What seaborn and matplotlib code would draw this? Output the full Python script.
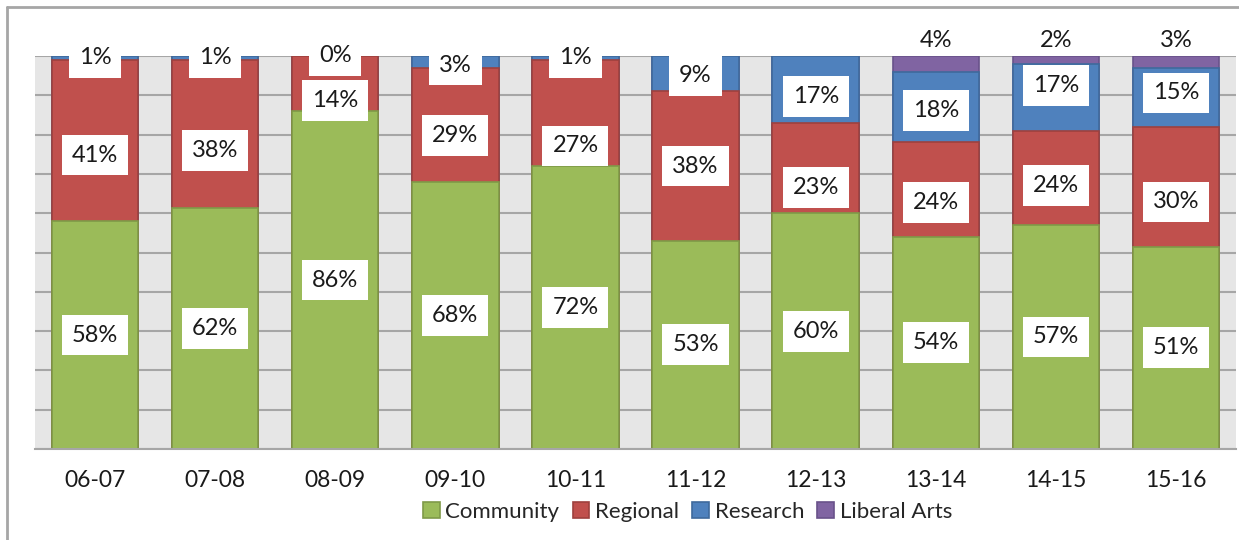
import numpy as np
import pandas as pd
import matplotlib
matplotlib.use("Agg")
import matplotlib.pyplot as plt
from matplotlib.lines import Line2D
from matplotlib.patches import Patch
import seaborn as sns

years = ["06-07", "07-08", "08-09", "09-10", "10-11", "11-12", "12-13", "13-14", "14-15", "15-16"]
community = [58, 62, 86, 68, 72, 53, 60, 54, 57, 51]
regional = [41, 38, 14, 29, 27, 38, 23, 24, 24, 30]
research = [1, 1, 0, 3, 1, 9, 17, 18, 17, 15]
liberal_arts = [0, 0, 0, 0, 0, 0, 0, 4, 2, 3]

series_names = ["Community", "Regional", "Research", "Liberal Arts"]
colors = ["#9BBB59", "#C0504D", "#4F81BD", "#8064A2"]
edges = ["#7F9A48", "#9E413E", "#3F6A9C", "#69528A"]

# label placement nudges (in % units), mimicking manually dragged labels
nudge_regional = [-3.7, -4.3, -4.4, -2.8, -8.4, 0.0, -5.0, -3.3, -2.0, -3.8]
nudge_research = [0.0, 0.0, 0.0, -0.8, 0.0, -0.5, -1.7, -0.8, 2.9, 1.2]

sns.set_theme(style="white")
plt.rcParams["font.family"] = ["Lato", "DejaVu Sans"]

df = pd.DataFrame({"year": years, "Community": community, "Regional": regional,
                   "Research": research, "Liberal Arts": liberal_arts})
tot = df[series_names].sum(axis=1)
share = df[series_names].div(tot, axis=0) * 100
cum = share.cumsum(axis=1)

fig = plt.figure(figsize=(12.39, 5.40), dpi=100)
ax = fig.add_axes([35 / 1239, 1 - 449 / 540, (1236 - 35) / 1239, (449 - 56) / 540])
ax.set_facecolor("#E6E6E6")

# draw stacked bars top-down with cumulative heights
for i in range(3, -1, -1):
    name = series_names[i]
    d = pd.DataFrame({"year": years, "val": cum[name].values})
    sns.barplot(data=d, x="year", y="val", color=colors[i], edgecolor=edges[i],
                linewidth=1.2, width=0.72, saturation=1, ax=ax, zorder=2)

ax.set_xlim(-0.5, 9.5)
ax.set_ylim(0, 100)
ax.set_yticks(np.arange(0, 101, 10))
ax.set_yticklabels([])
ax.tick_params(axis="y", length=0)
ax.yaxis.grid(True, color="#A6A6A6", linewidth=1.5, zorder=0)
ax.set_axisbelow(True)
ax.set_xlabel("")
ax.set_ylabel("")
for s in ["top", "right", "left"]:
    ax.spines[s].set_visible(False)
ax.spines["bottom"].set_color("#A6A6A6")
ax.spines["bottom"].set_linewidth(1.5)
ax.set_xticks(range(len(years)))
ax.set_xticklabels(years, fontsize=16.5, color="#1a1a1a")
ax.set_xticks(np.arange(-0.5, 10, 1), minor=True)
ax.tick_params(axis="x", which="major", length=0, pad=15)
ax.tick_params(axis="x", which="minor", length=6, width=1.5, color="#A6A6A6")

# data labels
box = dict(boxstyle="square,pad=0.42", facecolor="white", edgecolor="none")
nudges = {"Community": [0.0] * len(years), "Regional": nudge_regional,
          "Research": nudge_research, "Liberal Arts": [0.0] * len(years)}
for j in range(len(years)):
    base = 0
    for i, name in enumerate(series_names):
        v = df[name].iloc[j]
        h = share[name].iloc[j]
        if name == "Liberal Arts":
            if v > 0:
                ax.text(j, 104, f"{v}%", ha="center", va="center", fontsize=17,
                        color="#1a1a1a", clip_on=False, zorder=5)
        else:
            ax.text(j, base + h / 2 + nudges[name][j], f"{v}%", ha="center", va="center",
                    fontsize=17, color="#1a1a1a", bbox=box, clip_on=False, zorder=5)
        base += h

handles = [Patch(facecolor=colors[i], edgecolor=edges[i], linewidth=1.2, label=series_names[i])
           for i in range(4)]
fig.legend(handles=handles, loc="center", bbox_to_anchor=(0.555, 1 - 512 / 540), ncol=4,
           frameon=False, fontsize=16, handlelength=0.75, handleheight=0.75,
           handletextpad=0.25, columnspacing=0.6)

fig.add_artist(Line2D([6.5 / 1239, 6.5 / 1239], [0, 1 - 6.5 / 540], transform=fig.transFigure,
                      color="#A6A6A6", linewidth=2))
fig.add_artist(Line2D([6.5 / 1239, 1], [1 - 6.5 / 540, 1 - 6.5 / 540], transform=fig.transFigure,
                      color="#A6A6A6", linewidth=2))

fig.savefig("out.png", dpi=100, facecolor="white")
